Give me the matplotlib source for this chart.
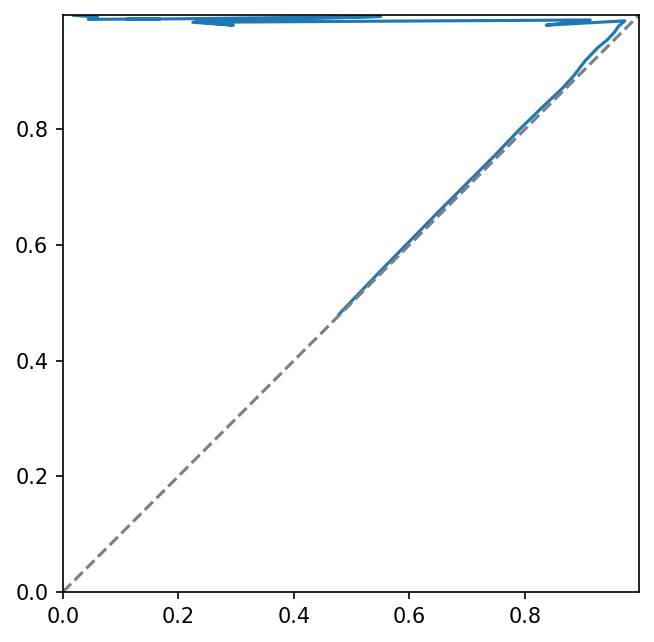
import matplotlib
matplotlib.use("Agg")
import matplotlib.pyplot as plt

curve_x = [0.478, 0.50, 0.55, 0.60, 0.65, 0.70, 0.75, 0.791, 0.83, 0.866, 0.885,
           0.904, 0.925, 0.944, 0.955, 0.962, 0.973,
           0.837, 0.913, 0.225, 0.295, 0.23, 0.55, 0.11, 0.168, 0.044, 0.06,
           0.018, 0.022]
curve_y = [0.480, 0.503, 0.555, 0.606, 0.657, 0.707, 0.757, 0.800, 0.838, 0.872,
           0.893, 0.918, 0.940, 0.956, 0.968, 0.978, 0.9875,
           0.980, 0.989, 0.985, 0.980, 0.986, 0.995, 0.990, 0.991, 0.990, 0.994,
           0.997, 0.998]
lim_max = 0.998

fig = plt.figure(figsize=(6.55 / 1.5, 6.42 / 1.5), dpi=150)
ax = fig.add_axes([0.096, 0.078, 0.88, 0.899])
ax.plot(curve_x, curve_y, color="#1f77b4", lw=1.5)
ax.plot([0, lim_max], [0, lim_max], "--", color="gray", lw=1.5)
ax.set_xlim(0, lim_max)
ax.set_ylim(0, lim_max)
ax.set_xticks([0, 0.2, 0.4, 0.6, 0.8])
ax.set_yticks([0, 0.2, 0.4, 0.6, 0.8])
fig.savefig("out.png", dpi=150)
